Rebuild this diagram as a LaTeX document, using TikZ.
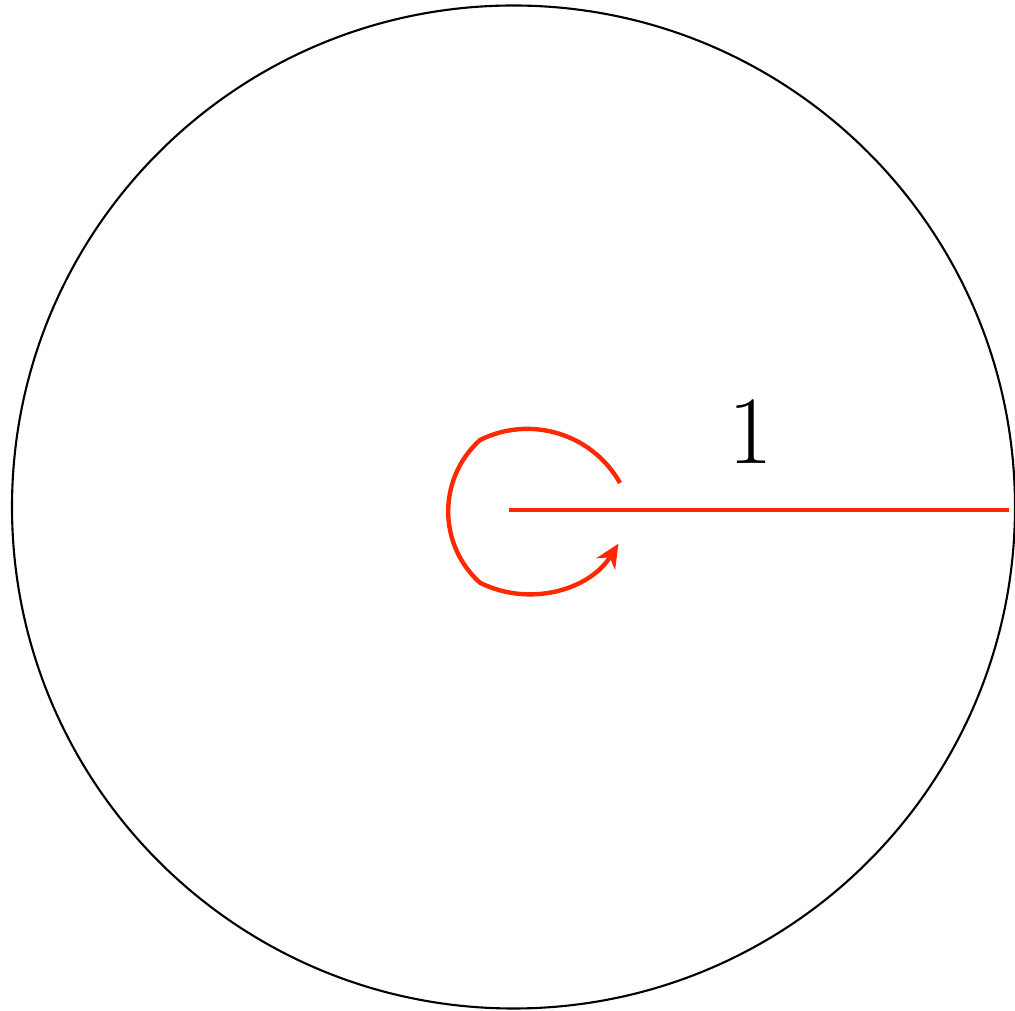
\documentclass[tikz,border=0pt]{standalone}
\usetikzlibrary{arrows.meta}
\definecolor{rred}{RGB}{255,40,0}
\begin{document}
\begin{tikzpicture}[x=0.02cm,y=0.02cm,
  outline/.style={draw=black,line width=1.2pt},
  redline/.style={draw=rred,line width=2.5pt},
  lbl/.style={font=\fontsize{55}{60}\selectfont,inner sep=0pt}]
\useasboundingbox (0,0) rectangle (1015,1011);
\coordinate (c) at (513.5,504);
\draw[outline] (c) circle[radius=501.5];
\coordinate (o) at (509,501);
\coordinate (e) at (1009,501);
\draw[redline] (o) -- (e);
\node[lbl] (one) at (751,579) {1};
\coordinate (s) at (620,528);
\draw[redline,-{Stealth[length=0.48cm,width=0.44cm]}] (s)
  arc[start angle=29.4,end angle=116.5,radius=106.3]
  arc[start angle=132,end angle=228,radius=96]
  arc[start angle=243.5,end angle=328,radius=107];
\end{tikzpicture}
\end{document}
